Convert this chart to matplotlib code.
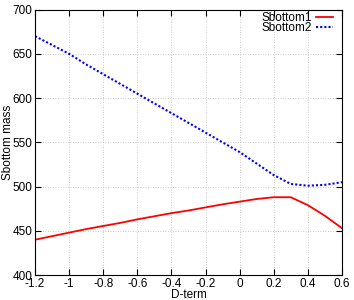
import matplotlib
matplotlib.use("Agg")
import matplotlib.pyplot as plt
import numpy as np

plt.rcParams['font.family'] = ['Liberation Sans', 'DejaVu Sans']

# datos
dterm = [-1.2, -1.1, -1.0, -0.9, -0.8, -0.7, -0.6, -0.5, -0.4, -0.3, -0.2, -0.1,
         0.0, 0.1, 0.2, 0.3, 0.4, 0.5, 0.6]
sbottom1 = [440, 444, 448, 452, 455.5, 459, 463, 466.5, 470, 473, 476.5, 480,
            483, 486, 488, 488, 479, 467, 453]
sbottom2 = [670, 660, 650, 638, 627, 616, 605, 594, 583, 572, 561, 550,
            539, 526, 513, 503, 501, 502, 505]

xticks = [-1.2, -1, -0.8, -0.6, -0.4, -0.2, 0, 0.2, 0.4, 0.6]
xticklabels = ['-1.2', '-1', '-0.8', '-0.6', '-0.4', '-0.2', '0', '0.2', '0.4', '0.6']
yticks = [400, 450, 500, 550, 600, 650, 700]

fig = plt.figure(figsize=(3.54, 3.0), dpi=100)
ax = fig.add_axes([0.099, 0.083, 0.867, 0.885])

ax.plot(dterm, sbottom1, color='red', lw=1.3, label='Sbottom1')
ax.plot(dterm, sbottom2, color='blue', lw=1.5, ls=(0, (1, 1)), label='Sbottom2')

ax.set_xlim(-1.2, 0.6)
ax.set_ylim(400, 700)
ax.set_xticks(xticks)
ax.set_xticklabels(xticklabels)
ax.set_yticks(yticks)
ax.tick_params(direction='in', top=True, right=True, labelsize=8.5, length=4, pad=2)
ax.grid(True, color='#bbbbbb', ls=(0, (1, 2)), lw=0.6)
for s in ax.spines.values():
    s.set_linewidth(0.8)

ax.set_xlabel('D-term', fontsize=8.5)
ax.set_ylabel('Sbottom mass', fontsize=8.5)
ax.xaxis.set_label_coords(0.5, -0.053)
ax.yaxis.set_label_coords(-0.07, 0.5)

ax.legend(loc='upper right', frameon=False, markerfirst=False, fontsize=8.5,
          handlelength=1.4, labelspacing=-0.2, handletextpad=0.35,
          borderaxespad=0, borderpad=0,
          bbox_to_anchor=(333 / 354, 1 - 12 / 300), bbox_transform=fig.transFigure)

plt.savefig('out.png', dpi=100)
